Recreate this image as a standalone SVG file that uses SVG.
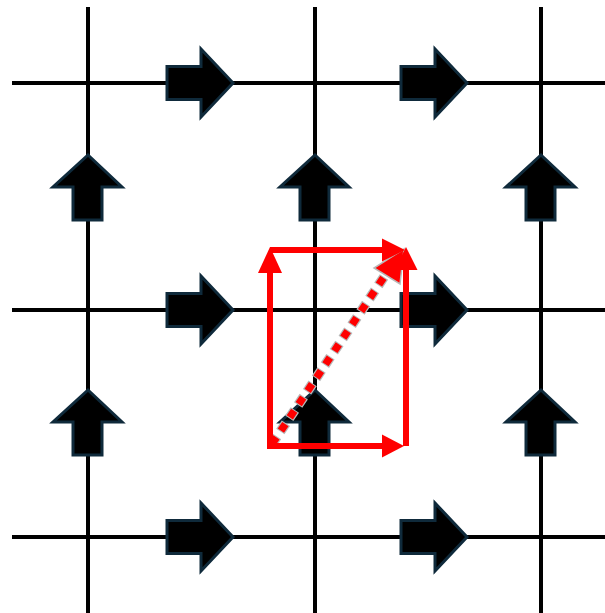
<svg xmlns="http://www.w3.org/2000/svg" width="605" height="613" viewBox="0 0 605 613">
  <style>
    .grid { stroke: #000; stroke-width: 4; fill: none; }
    .blk { fill: #000; stroke: #0f2a3b; stroke-width: 3; stroke-linejoin: miter; }
    .red { stroke: #ff0000; stroke-width: 6; fill: none; }
    .redhead { fill: #ff0000; }
  </style>
  <defs>
    <path id="rightArrow" d="M0,-16.5 H34 V-34 L66,0 L34,34 V16.5 H0 Z"/>
    <path id="upArrow" d="M0,0 L34,32 H14 V65 H-15 V32 H-35 Z"/>
  </defs>
  <rect width="605" height="613" fill="#fff"/>

  <!-- lattice lines -->
  <g id="connectors">
    <g class="grid">
      <line x1="12" y1="83" x2="605" y2="83"/>
      <line x1="12" y1="310" x2="605" y2="310"/>
      <line x1="12" y1="537" x2="605" y2="537"/>
      <line x1="88" y1="7" x2="88" y2="613"/>
      <line x1="315" y1="7" x2="315" y2="613"/>
      <line x1="541" y1="7" x2="541" y2="613"/>
    </g>
  </g>

  <!-- horizontal link arrows -->
  <g id="h-arrows" class="blk">
    <use href="#rightArrow" x="167" y="83"/>
    <use href="#rightArrow" x="401" y="83"/>
    <use href="#rightArrow" x="167" y="310"/>
    <use href="#rightArrow" x="401" y="310"/>
    <use href="#rightArrow" x="167" y="537"/>
    <use href="#rightArrow" x="401" y="537"/>
  </g>

  <!-- vertical link arrows -->
  <g id="v-arrows" class="blk">
    <use href="#upArrow" x="88" y="155"/>
    <use href="#upArrow" x="315" y="155"/>
    <use href="#upArrow" x="541" y="155"/>
    <use href="#upArrow" x="88" y="390"/>
    <use href="#upArrow" x="315" y="390"/>
    <use href="#upArrow" x="541" y="390"/>
  </g>

  <!-- plaquette path -->
  <g id="plaquette">
    <!-- diagonal dotted shortcut -->
    <line x1="272" y1="444" x2="388" y2="271" stroke="#b8b8b8" stroke-width="10" stroke-dasharray="10 6" stroke-dashoffset="1"/>
    <line x1="272" y1="444" x2="388" y2="271" stroke="#ff0000" stroke-width="7.5" stroke-dasharray="8 8"/>
    <polygon points="404,249 400,284 374,268" fill="#ff0000" stroke="#b8b8b8" stroke-width="1.5"/>

    <!-- left side, upward -->
    <line class="red" x1="270" y1="449" x2="270" y2="270"/>
    <polygon class="redhead" points="270,247 282,273 258,273"/>
    <!-- top side, rightward -->
    <line class="red" x1="270" y1="250" x2="385" y2="250"/>
    <polygon class="redhead" points="405,250 382,238.5 382,261.5"/>
    <!-- right side, upward -->
    <line class="red" x1="406" y1="446" x2="406" y2="268"/>
    <polygon class="redhead" points="406,247 417.5,270 394.5,270"/>
    <!-- bottom side, rightward -->
    <line class="red" x1="272" y1="446" x2="385" y2="446"/>
    <polygon class="redhead" points="404,446 382,434.5 382,457.5"/>
  </g>
</svg>
